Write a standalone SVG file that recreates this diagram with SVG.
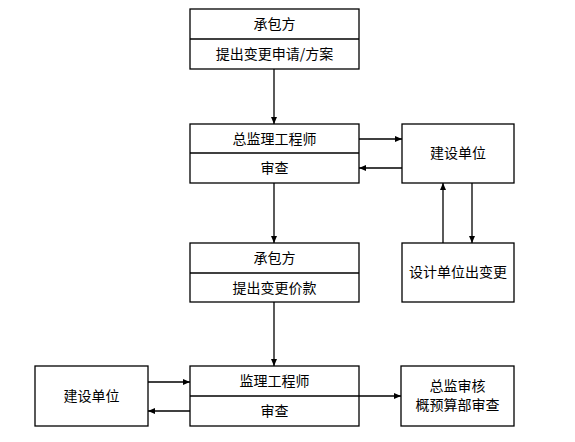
<svg xmlns="http://www.w3.org/2000/svg" width="575" height="442" viewBox="0 0 575 442">
<style>
.b{fill:#fff;stroke:#000;stroke-width:1.3}
.l{stroke:#000;stroke-width:1.3;fill:none}
.c{stroke:#000;stroke-width:1.3;fill:none;marker-end:url(#a)}
text{font-family:"Noto Sans CJK SC","Liberation Sans",sans-serif;font-size:14px;text-anchor:middle;fill:#000}
</style>
<defs>
<marker id="a" markerWidth="8" markerHeight="6" refX="7" refY="3" orient="auto" markerUnits="userSpaceOnUse">
<path d="M0,0 L7,3 L0,6 Z" fill="#000"/>
</marker>
</defs>
<rect width="575" height="442" fill="#fff"/>
<g id="connectors">
<line class="c" x1="274" y1="69" x2="274" y2="124"/>
<line class="c" x1="274" y1="183" x2="274" y2="243"/>
<line class="c" x1="274" y1="302" x2="274" y2="366"/>
<line class="c" x1="359" y1="139" x2="402" y2="139"/>
<line class="c" x1="402" y1="168" x2="359" y2="168"/>
<line class="c" x1="443" y1="243" x2="443" y2="183"/>
<line class="c" x1="472" y1="183" x2="472" y2="243"/>
<line class="c" x1="148" y1="382" x2="190" y2="382"/>
<line class="c" x1="190" y1="411" x2="148" y2="411"/>
<line class="c" x1="359" y1="396" x2="401" y2="396"/>
</g>
<g id="n1">
<rect class="b" x="190" y="9" width="169" height="60"/>
<line class="l" x1="190" y1="39" x2="359" y2="39"/>
<text x="274.5" y="29">承包方</text>
<text x="274.5" y="59">提出变更申请/方案</text>
</g>
<g id="n2">
<rect class="b" x="190" y="124" width="169" height="59"/>
<line class="l" x1="190" y1="153" x2="359" y2="153"/>
<text x="274.5" y="144">总监理工程师</text>
<text x="274.5" y="173">审查</text>
</g>
<g id="n3">
<rect class="b" x="402" y="124" width="112" height="59"/>
<text x="458" y="158">建设单位</text>
</g>
<g id="n4">
<rect class="b" x="190" y="243" width="169" height="59"/>
<line class="l" x1="190" y1="273" x2="359" y2="273"/>
<text x="274.5" y="263">承包方</text>
<text x="274.5" y="293">提出变更价款</text>
</g>
<g id="n5">
<rect class="b" x="402" y="243" width="112" height="59"/>
<text x="458" y="277">设计单位出变更</text>
</g>
<g id="n6">
<rect class="b" x="35" y="366" width="113" height="60"/>
<text x="91.5" y="401">建设单位</text>
</g>
<g id="n7">
<rect class="b" x="190" y="366" width="169" height="60"/>
<line class="l" x1="190" y1="396" x2="359" y2="396"/>
<text x="274.5" y="386">监理工程师</text>
<text x="274.5" y="416">审查</text>
</g>
<g id="n8">
<rect class="b" x="401" y="366" width="113" height="60"/>
<text x="457.5" y="391">总监审核</text>
<text x="457.5" y="410">概预算部审查</text>
</g>
</svg>
